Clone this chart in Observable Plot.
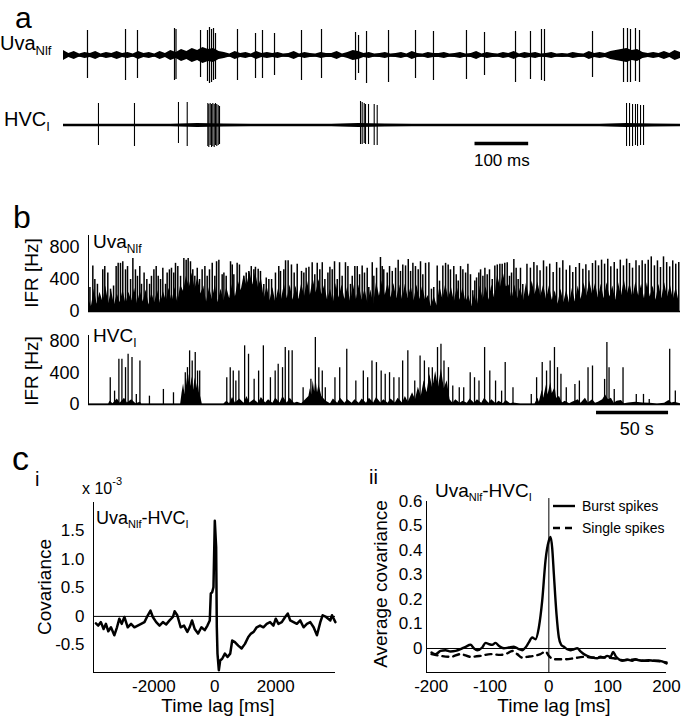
<!DOCTYPE html>
<html><head><meta charset="utf-8">
<script src="https://cdn.jsdelivr.net/npm/d3@7"></script>
<script src="https://cdn.jsdelivr.net/npm/@observablehq/plot@0.6"></script>
<style>
body{margin:0;background:#fff;}
#fig{position:relative;width:682px;height:720px;overflow:hidden;background:#fff;}
</style></head><body><div id="fig"></div><script>
// ---------- DATA ----------
// Panel a: spike times [ms, up amplitude, down amplitude] and noise envelopes
const uvaSpikes = [[44.7,25,23],[115.6,26,25],[137.9,25,23],[206.9,27,25],[209.7,26,24],[255.4,25,22],[268.4,25,26],[272.1,28,28],[275.9,26,27],[279.6,27,25],[283.3,22,24],[324.3,26,25],[357.9,22,23],[370.9,25,23],[393.3,22,20],[443.6,25,25],[480.9,26,23],[544.3,23,25],[549.9,20,18],[564.8,24,28],[605.8,25,27],[656.1,25,23],[689.6,24,25],[751.1,25,24],[784.7,23,20],[842.5,24,27],[870.4,24,24],[890.9,26,25],[896.5,26,26],[986.0,24,22],[1043.8,27,27],[1051.2,27,27],[1056.8,26,27],[1066.1,27,26],[1073.6,25,27]];
const hvcSpikes = [[65.2,22,20],[132.3,22,21],[214.3,23,18],[230.6,23,21],[269.0,22,21],[270.8,21,22],[273.4,22,20],[275.9,21,22],[278.3,22,21],[280.9,21,22],[283.3,22,20],[285.7,21,21],[288.4,20,20],[290.8,19,19],[553.6,24,19],[556.7,23,19],[560.5,22,18],[562.9,21,19],[568.5,21,19],[579.1,21,20],[584.7,20,20],[1049.4,22,21],[1055.0,22,21],[1060.6,21,21],[1066.1,21,20],[1069.9,21,21],[1075.5,20,20],[1081.1,20,20]];
const uvaNoiseStep = 10; // ms
const uvaNoise = [5,2,4,1.5,3,2,4,1.5,3,2, 4,2,3,1.5,4,2,3,1.5,4,2, 5,3,6,4,7,5,8,6,7,4, 3,1.5,4,2,3,1.5,4,2,3,2, 3,1.5,2,4,1.5,3,2,1.5,3,2, 2,4,1.5,3,5,4,2,3,1.5,2, 3,1.5,2,3,1.5,4,2,1.5,3,2, 2,3,1.5,2,3,1.5,2,4,1.5,3, 2,1.5,3,2,4,1.5,3,2,3,1.5, 2,3,1.5,2,1.5,3,2,1.5,4,2, 3,2,4,5,6,7,5,6,3,2, 3,2,4,2,5,3];
const hvcNoiseStep = 50; // ms
const hvcNoise = [1.2,1.2,1.2,1.2,1.2,2,1.5,1.2,1.2,1.2,1.2,2,1.5,1.2,1.2,1.2,1.2,1.2,1.2,1.2,1.2,2,1.5,1.2];
const scaleBarA = [767, 867]; // 100 ms

// Panel b: IFR [s, Hz]
const uvaIFR = [[1.0,300],[3.0,570],[4.4,400],[6.2,340],[9.9,521],[11.3,562],[13.4,481],[15.3,279],[17.4,319],[19.2,562],[20.6,602],[22.2,602],[23.8,622],[25.7,521],[27.1,562],[29.2,400],[30.8,663],[32.6,521],[34.0,440],[35.6,562],[36.8,340],[38.6,481],[40.5,400],[42.4,340],[43.7,440],[45.4,521],[47.0,562],[48.4,440],[50.0,400],[51.6,541],[53.5,340],[54.6,481],[56.2,521],[57.6,541],[59.2,481],[60.4,602],[62.0,562],[63.9,440],[66.2,663],[67.8,642],[69.2,663],[70.8,622],[72.4,521],[73.8,440],[75.5,541],[77.1,400],[78.9,521],[80.8,562],[82.4,440],[84.0,521],[85.9,602],[87.7,440],
[88.9,622],[90.5,642],[92.8,460],[94.0,481],[95.6,440],[98.6,622],[99.8,582],[100.9,460],[103.2,602],[104.8,582],[107.9,440],[109.5,481],[111.3,501],[113.0,562],[114.8,521],[115.9,553],[117.8,529],[119.4,501],[121.7,339],[123.4,420],[125.2,400],[127.1,400],[129.8,481],[132.1,562],[133.3,501],[135.6,521],[136.8,634],[138.6,634],[140.9,582],[142.8,481],[144.9,590],[147.9,501],[149.5,481],[151.1,541],[153.0,553],[155.3,610],[157.1,460],[158.8,602],[160.6,521],[162.3,610],[164.1,400],[166.2,481],[167.6,553],[169.2,521],[170.8,622],[172.7,400],[174.3,610],[176.1,440],[178.4,610],[180.1,562],[181.9,339],[183.1,440],[184.9,562],[186.6,562],[188.2,460],[190.0,570],[191.6,481],[193.5,541],
[194.6,299],[197.0,610],[198.1,440],[200.0,541],[202.7,675],[203.9,562],[205.0,521],[207.4,481],[209.0,562],[210.9,501],[213.2,541],[215.0,642],[216.6,501],[218.2,582],[220.1,570],[222.0,650],[223.6,501],[225.2,602],[227.0,562],[228.9,521],[230.5,622],[232.1,460],[234.0,602],[236.3,610],[238.1,279],[239.7,299],[242.1,570],[243.7,380],[246.0,570],[247.9,602],[249.7,582],[251.3,521],[253.6,562],[255.3,460],[256.7,380],[258.3,562],[259.9,521],[261.8,481],[263.4,590],[265.2,460],[266.8,259],[268.2,380],[269.4,420],[271.0,481],[272.2,521],[273.8,440],[275.2,541],[276.8,460],[278.4,521],[280.3,400],[282.1,570],[283.8,582],[285.6,590],[287.2,590],[289.0,602],[290.7,610],[292.3,440],[293.7,481],[295.3,650],[296.9,541],[298.3,400],[299.9,541],[301.5,339],
[304.4,592],[306.8,542],[309.2,612],[311.4,571],[313.5,508],[315.9,633],[318.0,558],[320.2,592],[322.6,488],[325.0,612],[327.1,542],[329.3,633],[331.7,517],[334.1,571],[336.2,488],[338.3,550],[340.8,600],[343.2,529],[345.3,583],[347.4,508],[349.9,600],[352.0,633],[354.1,571],[356.2,642],[358.3,592],[360.5,654],[362.6,558],[365.0,612],[367.1,529],[369.2,642],[371.4,571],[373.6,654],[375.6,600],[377.7,542],[380.1,633],[382.3,571],[384.4,633],[386.5,592],[388.6,642],[390.7,683],[392.9,571],[395.0,633],[397.1,550],[399.2,683],[401.4,612],[403.5,558],[405.6,633],[407.7,592],[409.8,612]];
const uvaDenseStep = 2; // s
const uvaDense = [160,60,280,90,240,120,320,100,260,80, 220,110,270,90,240,130,290,100,250,120, 270,80,230,110,260,100,250,130,290,120, 300,110,330,250,440,300,480,280,430,220, 320,120,300,150,330,110,280,130,300,160, 340,180,380,260,450,320,500,330,490,300, 420,160,320,130,300,110,290,150,340,160, 330,140,320,150,350,190,380,200,410,230, 400,210,330,140,280,110,350,170,330,150, 310,120,330,150,330,140,280,100,270,90, 370,190,380,200,360,170,350,160,330,150, 340,160,320,130,330,150,320,140,200,60, 190,70,320,150,340,160,300,120,310,140, 300,120,200,60,220,80,320,150,310,140, 330,160,460,300,480,310,330,150,330,160, 300,130,350,180,380,210,370,190,330,150, 320,140,260,90,280,110,270,100,290,120, 320,150,360,190,380,210,350,170,340,160, 360,180,320,140,360,190,390,210,350,170, 370,190,340,160,360,180,320,140,340,160, 360,180,330,150,300,120];
const hvcIFR = [[15.1,340],[18.1,170],[21.1,574],[23.2,574],[25.7,468],[27.5,638],[30.2,596],[33.2,128],[35.7,553],[42.3,106],[52.0,191],[59.0,149],[67.2,404],[68.7,468],[70.2,681],[72.0,553],[74.1,660],[75.7,425],[77.2,425],[96.0,340],[98.4,468],[100.5,425],[102.3,298],[104.4,425],[108.4,745],[111.1,638],[115.0,319],[118.1,425],[121.4,745],[126.3,340],[129.6,425],[131.7,510],[134.7,468],[136.6,723],[139.0,681],[141.4,681],[149.0,213],[154.4,319],[157.5,851],[159.9,468],[162.3,425],[164.4,213],[171.1,340],[174.4,468],[179.3,702],[185.6,298],[190.8,425],[193.8,340],[196.8,553],[199.9,532],[203.2,425],[206.0,383],[209.0,404],[212.0,340],[215.6,340],[218.1,553],[221.7,681],[226.5,298],[230.2,617],[233.2,553],[236.2,468],[238.7,468],[242.3,723],[244.7,766],[246.8,553],[249.9,468],[252.9,234],[257.4,213],[260.5,213],[265.0,404],[268.0,340],[271.1,298],[275.0,723],[278.6,425],[282.6,298],[286.8,170],[289.3,532],[294.7,213],[307.4,128],[311.1,340],[315.0,532],[318.0,425],[320.5,553],[323.5,723],[325.6,468],[328.0,383],[331.7,213],[337.7,255],[340.8,298],[346.8,468],[349.9,489],[358.3,319],[359.9,787],[361.4,468],[365.0,191],[371.1,468],[380.3,128],[385.3,128],[389.3,64],[403.5,702],[407.4,170]];
const hvcDense = [[0,5],[14,5],[15,40],[17,10],[20,70],[22,15],[25,80],[27,20],[30,60],[33,10],[36,30],[37,5],[64,5],[65,150],[66,260],[67,120],[68,340],[69,200],[70,380],[71,230],[72,350],[73,180],[74,340],[75,200],[76,300],[77,150],[78,90],[79,5],[94,5],[96,40],[98,10],[100,90],[102,20],[105,70],[108,15],[110,100],[112,20],[115,60],[118,15],[120,90],[123,20],[125,60],[128,15],[130,80],[133,20],[135,100],[138,20],[140,80],[143,15],[145,30],[148,10],[153,100],[154,200],[155,120],[156,300],[157,160],[158,320],[159,150],[160,250],[162,100],[165,40],[168,10],[170,70],[173,15],[175,80],[178,15],[180,60],[183,15],[185,60],[188,15],[190,70],[193,15],[195,80],[198,20],[200,90],[203,20],[205,60],[208,15],[210,70],[213,20],[215,80],[218,20],[220,100],[222,30],[225,150],[227,60],[229,220],[231,100],[233,300],[235,150],[237,380],[239,200],[241,420],[243,220],[245,450],[247,200],[249,300],[251,60],[253,15],[255,60],[258,15],[260,40],[263,15],[265,70],[268,15],[270,60],[273,15],[275,80],[278,15],[280,60],[283,10],[285,40],[288,10],[290,50],[293,10],[295,20],[300,5],[310,5],[312,80],[313,30],[315,180],[316,80],[318,250],[319,120],[321,280],[322,140],[324,220],[325,80],[327,100],[329,20],[331,40],[334,10],[336,30],[340,60],[342,15],[345,80],[347,20],[350,60],[352,15],[354,30],[357,60],[359,120],[361,60],[363,80],[365,15],[367,40],[370,50],[372,10],[375,20],[380,30],[385,20],[390,15],[395,5],[400,15],[403,50],[405,20],[407,30],[411,10]];
const scaleBarB = [352.7, 402.7]; // 50 s
const ifrTicks = [0, 400, 800];

// Panel c-i: covariance (x 10^-3) vs time lag [ms]
const covariance = [[-3901,-0.12],[-3825,-0.16],[-3737,-0.10],[-3649,-0.22],[-3572,-0.13],[-3495,-0.26],[-3407,-0.19],[-3297,-0.33],[-3209,-0.19],[-3132,-0.04],[-3055,-0.13],[-2967,-0.01],[-2857,-0.19],[-2748,-0.13],[-2638,-0.19],[-2528,-0.16],[-2418,-0.13],[-2308,-0.10],[-2198,0.02],[-2110,0.10],[-2033,-0.01],[-1923,-0.10],[-1813,-0.16],[-1703,-0.10],[-1594,-0.14],[-1484,-0.07],[-1374,-0.01],[-1319,0.09],[-1231,0.02],[-1121,-0.19],[-1011,-0.16],[-901,-0.27],[-824,-0.19],[-747,-0.07],[-659,-0.22],[-550,-0.30],[-440,-0.19],[-330,-0.24],[-242,-0.16],[-165,-0.07],[-132,0.40],[-88,0.42],[-44,0.51],[0,1.67],[44,1.21],[66,-0.19],[88,-0.65],[132,-0.94],[176,-0.77],[242,-0.74],[330,-0.65],[418,-0.71],[506,-0.65],[571,-0.42],[659,-0.45],[769,-0.51],[879,-0.56],[989,-0.48],[1099,-0.36],[1187,-0.30],[1275,-0.27],[1374,-0.19],[1484,-0.16],[1594,-0.19],[1703,-0.13],[1813,-0.10],[1923,-0.16],[2000,-0.04],[2088,-0.13],[2198,-0.10],[2308,-0.01],[2396,0.05],[2473,-0.07],[2583,-0.10],[2692,-0.13],[2802,-0.07],[2912,-0.19],[3022,-0.13],[3132,-0.10],[3242,-0.19],[3352,-0.33],[3462,-0.10],[3539,0.02],[3649,-0.01],[3791,-0.07],[3846,0.02],[3956,-0.10]];
const ciXTicks = [-2000, 0, 2000];
const ciYTicks = [-0.5, 0, 0.5, 1.0, 1.5];

// Panel c-ii: average covariance vs time lag [ms]
const burstSpikes = [[-199.4,-0.016],[-192.6,-0.023],[-184.1,-0.010],[-175.6,-0.007],[-167.1,-0.012],[-158.6,-0.010],[-150.1,-0.003],[-141.6,0.007],[-133.1,0.015],[-127.5,0.001],[-121.8,-0.007],[-113.3,0.004],[-107.6,0.023],[-102.0,0.018],[-96.3,0.015],[-90.7,0.023],[-85.0,0.011],[-76.5,0.001],[-68.0,0.004],[-59.5,0.007],[-51.0,-0.003],[-45.3,-0.007],[-39.7,0.004],[-34.0,0.025],[-28.3,0.045],[-22.7,0.038],[-17.0,0.086],[-11.3,0.195],[-5.7,0.359],[0,0.44],[2.8,0.455],[5.7,0.41],[8.5,0.304],[13.0,0.14],[17.0,0.045],[21.0,0.015],[25.5,0.007],[31.2,-0.003],[36.8,-0.007],[42.5,-0.003],[48.2,0.001],[53.8,-0.012],[59.5,-0.023],[65.2,-0.030],[73.7,-0.037],[82.2,-0.040],[87.8,-0.034],[93.5,-0.037],[99.2,-0.030],[104.8,-0.034],[109.3,-0.014],[113.3,-0.030],[119.0,-0.044],[124.6,-0.050],[133.1,-0.045],[141.6,-0.050],[147.3,-0.044],[153.0,-0.048],[161.5,-0.050],[170.0,-0.048],[178.5,-0.050],[187.0,-0.050],[192.6,-0.053],[200,-0.061]];
const singleSpikes = [[-199.4,-0.023],[-184.1,-0.030],[-167.1,-0.034],[-150.1,-0.023],[-133.1,-0.034],[-116.1,-0.030],[-99.2,-0.023],[-82.2,-0.026],[-70.8,-0.020],[-62.3,-0.010],[-53.8,-0.023],[-45.3,-0.037],[-36.8,-0.034],[-25.5,-0.030],[-14.2,-0.023],[-5.7,-0.012],[0,-0.030],[8.5,-0.044],[25.5,-0.044],[42.5,-0.040],[59.5,-0.034],[76.5,-0.037],[93.5,-0.037],[110.5,-0.040],[127.5,-0.048],[144.5,-0.045],[161.5,-0.050],[178.5,-0.050],[200,-0.057]];
const ciiXTicks = [-200, -100, 0, 100, 200];
const ciiYTicks = [0, 0.1, 0.2, 0.3, 0.4, 0.5, 0.6];

// ---------- RENDER ----------
const FONT = '"Liberation Sans", Arial, Helvetica, sans-serif';
const fig = document.getElementById("fig");
function place(node, left, top) {
  node.style.position = "absolute";
  node.style.left = left + "px";
  node.style.top = top + "px";
  node.style.overflow = "visible";
  fig.appendChild(node);
}
const base = (fs) => ({fontFamily: FONT, fontSize: fs + "px", color: "#000", background: "transparent", overflow: "visible"});
const hy = d => (d < 0 ? "-" : "") + Math.abs(d);
const f1 = d => d === 0 ? "0" : (d < 0 ? "-" : "") + Math.abs(d).toFixed(1);

const uvaNoiseRows = uvaNoise.map((v, i) => ({t: i * uvaNoiseStep, v}));
const hvcNoiseRows = hvcNoise.map((v, i) => ({t: i * hvcNoiseStep, v}));
const uvaDenseRows = uvaDense.map((v, i) => ({t: i * uvaDenseStep, v}));

// a: UvaNlf trace
place(Plot.plot({
  width: 617, height: 60, margin: 0, style: base(16),
  x: {domain: [0, 1150], axis: null}, y: {domain: [-30, 30], axis: null},
  marks: [
    Plot.areaY(uvaNoiseRows, {x: "t", y1: d => -d.v, y2: d => d.v, fill: "#000"}),
    Plot.ruleY([0], {stroke: "#000", strokeWidth: 2.5}),
    Plot.ruleX(uvaSpikes, {x: d => d[0], y1: d => -d[2], y2: d => d[1], stroke: "#000", strokeWidth: 1.2})
  ]
}), 63, 25);

// a: HVCI trace + scale bar
place(Plot.plot({
  width: 617, height: 80, margin: 0, style: base(17),
  x: {domain: [0, 1150], axis: null}, y: {domain: [-50, 30], axis: null},
  marks: [
    Plot.areaY(hvcNoiseRows, {x: "t", y1: d => -d.v, y2: d => d.v, fill: "#000"}),
    Plot.ruleX(hvcSpikes, {x: d => d[0], y1: d => -d[2], y2: d => d[1], stroke: "#000", strokeWidth: 1.1}),
    Plot.ruleY([0], {x1: scaleBarA[0], x2: scaleBarA[1], dy: 18, stroke: "#000", strokeWidth: 3.5}),
    Plot.text(["100 ms"], {x: (scaleBarA[0] + scaleBarA[1]) / 2, y: 0, dy: 35, fontSize: 17, fill: "#000"})
  ]
}), 63, 95);

// b: UvaNlf IFR
place(Plot.plot({
  width: 682, height: 90, marginLeft: 88, marginRight: 2, marginTop: 10, marginBottom: 4, style: base(18),
  x: {domain: [0, 411], axis: null},
  y: {domain: [0, 950], ticks: ifrTicks, tickSize: 0, tickPadding: 9, label: null, tickFormat: hy},
  marks: [
    Plot.areaY(uvaDenseRows, {x: "t", y: "v", fill: "#000"}),
    Plot.ruleX(uvaIFR, {x: d => d[0], y1: 0, y2: d => d[1], stroke: "#000", strokeWidth: 1.5}),
    Plot.ruleY([0], {stroke: "#000", strokeWidth: 1.5}),
    Plot.ruleX([0], {stroke: "#000", strokeWidth: 1})
  ]
}), 0, 225);

// b: HVCI IFR + scale bar
place(Plot.plot({
  width: 682, height: 115, marginLeft: 88, marginRight: 2, marginTop: 10, marginBottom: 36, style: base(18),
  x: {domain: [0, 411], axis: null},
  y: {domain: [0, 876], ticks: ifrTicks, tickSize: 0, tickPadding: 9, label: null, tickFormat: hy},
  marks: [
    Plot.areaY(hvcDense, {x: d => d[0], y: d => d[1], fill: "#000"}),
    Plot.ruleX(hvcIFR, {x: d => d[0], y1: 0, y2: d => d[1], stroke: "#000", strokeWidth: 1.3}),
    Plot.ruleY([0], {stroke: "#000", strokeWidth: 1.5}),
    Plot.ruleX([0], {y1: 0, y2: 876, stroke: "#000", strokeWidth: 1}),
    Plot.ruleY([0], {x1: scaleBarB[0], x2: scaleBarB[1], dy: 8, stroke: "#000", strokeWidth: 3.5}),
    Plot.text(["50 s"], {x: (scaleBarB[0] + scaleBarB[1]) / 2 + 3, y: 0, dy: 25, fontSize: 18, fill: "#000"})
  ]
}), 0, 325);

// c-i
const ciX = [-3980, 3960], ciY = [-0.98, 1.99];
place(Plot.plot({
  width: 345, height: 225, marginLeft: 93, marginRight: 10, marginTop: 7, marginBottom: 48, style: base(17),
  x: {domain: ciX, ticks: ciXTicks, tickSize: 0, tickPadding: 7, label: null, tickFormat: hy},
  y: {domain: ciY, ticks: ciYTicks, tickSize: 0, tickPadding: 9, label: null, tickFormat: f1},
  marks: [
    Plot.ruleY([0], {stroke: "#000", strokeWidth: 1}),
    Plot.ruleY([ciY[0]], {stroke: "#000", strokeWidth: 1}),
    Plot.ruleX([ciX[0]], {stroke: "#000", strokeWidth: 1}),
    Plot.line(covariance, {x: d => d[0], y: d => d[1], stroke: "#000", strokeWidth: 2.5, strokeLinejoin: "round"})
  ]
}), 0, 495);

// c-ii
const ciiX = [-208, 200], ciiY = [-0.098, 0.6];
place(Plot.plot({
  width: 342, height: 225, marginLeft: 86, marginRight: 16, marginTop: 6, marginBottom: 48, style: base(17),
  x: {domain: ciiX, ticks: ciiXTicks, tickSize: 0, tickPadding: 7, label: null, tickFormat: hy},
  y: {domain: ciiY, ticks: ciiYTicks, tickSize: 0, tickPadding: 4, label: null, tickFormat: f1},
  marks: [
    Plot.ruleY([0], {stroke: "#000", strokeWidth: 1}),
    Plot.ruleX([0], {y1: ciiY[0], y2: 0.612, stroke: "#000", strokeWidth: 1}),
    Plot.ruleY([ciiY[0]], {stroke: "#000", strokeWidth: 1}),
    Plot.ruleX([ciiX[0]], {stroke: "#000", strokeWidth: 1}),
    Plot.line(singleSpikes, {x: d => d[0], y: d => d[1], stroke: "#000", strokeWidth: 2.4, strokeDasharray: "6,5", curve: "monotone-x"}),
    Plot.line(burstSpikes, {x: d => d[0], y: d => d[1], stroke: "#000", strokeWidth: 2.4, curve: "monotone-x"})
  ]
}), 340, 495);

// ---------- TEXT OVERLAY ----------
const ov = d3.select(fig).append("svg").attr("width", 682).attr("height", 720)
  .style("position", "absolute").style("left", 0).style("top", 0).style("pointer-events", "none")
  .attr("font-family", FONT).attr("fill", "#000");
function txt(x, y, size, parts, anchor = "start", rot = false) {
  const t = ov.append("text").attr("x", x).attr("y", y).attr("font-size", size).attr("text-anchor", anchor);
  if (rot) t.attr("transform", `rotate(-90 ${x} ${y})`);
  let shift = 0;
  for (const p of parts) {
    if (typeof p === "string") { t.append("tspan").attr("dy", -shift).text(p); shift = 0; }
    else { t.append("tspan").attr("font-size", p.s).attr("dy", p.dy - shift).text(p.t); shift = p.dy; }
  }
}
txt(15, 28, 30, ["a"]);
txt(0, 50, 20, ["Uva", {t: "Nlf", s: 13, dy: 5}]);
txt(4, 126, 20, ["HVC", {t: "I", s: 13, dy: 5}]);
txt(13, 228, 32, ["b"]);
txt(93, 248, 19, ["Uva", {t: "Nlf", s: 12, dy: 5}]);
txt(93, 342, 19, ["HVC", {t: "I", s: 12, dy: 5}]);
txt(38, 273, 19, ["IFR [Hz]"], "middle", true);
txt(38, 371, 19, ["IFR [Hz]"], "middle", true);
txt(12, 470, 34, ["c"]);
txt(35, 486, 20, ["i"]);
txt(82, 494, 16, ["x 10", {t: "-3", s: 11, dy: -9}]);
txt(96, 524, 18, ["Uva", {t: "Nlf", s: 11, dy: 4}, "-HVC", {t: "I", s: 11, dy: 4}]);
txt(51, 587, 19, ["Covariance"], "middle", true);
txt(218, 712, 19, ["Time lag [ms]"], "middle");
txt(369, 484, 20, ["ii"]);
txt(435, 497, 19, ["Uva", {t: "Nlf", s: 11, dy: 4}, "-HVC", {t: "I", s: 11, dy: 4}]);
txt(387, 584, 19, ["Average covariance"], "middle", true);
txt(554, 712, 19, ["Time lag [ms]"], "middle");
// legend
ov.append("line").attr("x1", 553).attr("x2", 575).attr("y1", 506).attr("y2", 506).attr("stroke", "#000").attr("stroke-width", 2.4);
ov.append("line").attr("x1", 553).attr("x2", 575).attr("y1", 528).attr("y2", 528).attr("stroke", "#000").attr("stroke-width", 2.4).attr("stroke-dasharray", "7,5");
txt(582, 511, 14, ["Burst spikes"]);
txt(582, 533, 14, ["Single spikes"]);
</script></body></html>
